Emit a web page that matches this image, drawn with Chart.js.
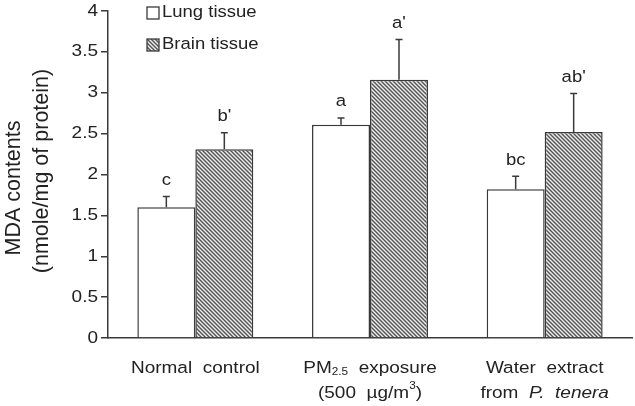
<!DOCTYPE html>
<html>
<head>
<meta charset="utf-8">
<script src="https://cdn.jsdelivr.net/npm/chart.js@4/dist/chart.umd.min.js"></script>
<style>
  html, body { margin: 0; padding: 0; background: #fff; }
  #wrap { width: 635px; height: 406px; }
</style>
</head>
<body>
<div id="wrap"><canvas id="chart" width="635" height="406"></canvas></div>
<script>
    'use strict';

    // data
    var categories = ['Normal control', 'PM2.5 exposure (500 µg/m3)', 'Water extract from P. tenera'];
    var lungValues = [1.60, 2.61, 1.82];
    var brainValues = [2.31, 3.16, 2.52];
    var lungErrors = [0.13, 0.08, 0.16];
    var brainErrors = [0.20, 0.49, 0.47];
    var lungLetters = ['c', 'a', 'bc'];
    var brainLetters = ["b'", "a'", "ab'"];
    var yTicks = [0, 0.5, 1, 1.5, 2, 2.5, 3, 3.5, 4];
    var seriesNames = ['Lung tissue', 'Brain tissue'];
    var yTitle = ['MDA contents', '(nmole/mg of protein)'];

    // category labels with sub/superscripts and italics
    var categoryLines = [
        [[{ t: 'Normal  control' }]],
        [[{ t: 'PM' }, { t: '2.5', sub: true }, { t: '  exposure' }],
         [{ t: '(500  µg/m' }, { t: '3', sup: true }, { t: ')' }]],
        [[{ t: 'Water  extract' }],
         [{ t: 'from  ' }, { t: 'P.', it: true }, { t: '  ' }, { t: 'tenera', it: true }]]
    ];

    var ink = '#222';
    var lineCol = '#3a3a3a';
    var FONT = '"Liberation Sans", Arial, sans-serif';
    var SQUISH = 0.86;

    var _hatch = function () {
        var c = document.createElement('canvas');
        c.width = 4; c.height = 4;
        var g = c.getContext('2d');
        var img = g.createImageData(4, 4);
        var shades = [85, 155, 238, 165];
        for (var y = 0; y < 4; y++) {
            for (var x = 0; x < 4; x++) {
                var v = shades[((x - y) % 4 + 4) % 4];
                var i = (y * 4 + x) * 4;
                img.data[i] = v; img.data[i + 1] = v; img.data[i + 2] = v; img.data[i + 3] = 255;
            }
        }
        g.putImageData(img, 0, 0);
        return document.getElementById('chart').getContext('2d').createPattern(c, 'repeat');
    };
    var hatch = _hatch();

    var _text = function (ctx, str, x, y, size, align, italic) {
        ctx.save();
        ctx.font = (italic ? 'italic ' : '') + size + 'px ' + FONT;
        ctx.textAlign = align || 'center';
        ctx.textBaseline = 'middle';
        ctx.fillStyle = ink;
        ctx.translate(x, y);
        ctx.scale(1, SQUISH);
        ctx.fillText(str, 0, 0);
        ctx.restore();
    };

    var _richLine = function (ctx, segs, cx, cy, size) {
        var widths = segs.map(function (s) {
            var sz = (s.sub || s.sup) ? size * 0.62 : size;
            ctx.font = (s.it ? 'italic ' : '') + sz + 'px ' + FONT;
            return ctx.measureText(s.t).width;
        });
        var total = widths.reduce(function (a, b) { return a + b; }, 0);
        var x = cx - total / 2;
        segs.forEach(function (s, i) {
            var sz = (s.sub || s.sup) ? size * 0.62 : size;
            var dy = s.sub ? 4 : (s.sup ? -7 : 0);
            _text(ctx, s.t, x, cy + dy, sz, 'left', s.it);
            x += widths[i];
        });
    };

    var decorations = {
        id: 'decorations',
        afterDraw: function (chart) {
            var ctx = chart.ctx;
            var yScale = chart.scales.y;
            var xScale = chart.scales.x;

            // y tick labels
            yScale.ticks.forEach(function (tk) {
                _text(ctx, String(tk.value), yScale.right - 10, yScale.getPixelForValue(tk.value), 19, 'right');
            });

            // y axis title, two rotated lines
            ctx.save();
            ctx.fillStyle = ink;
            ctx.textAlign = 'center';
            ctx.textBaseline = 'middle';
            ctx.font = '21.5px ' + FONT;
            [[14, 188], [42, 171]].forEach(function (p, i) {
                ctx.save();
                ctx.translate(p[0], p[1]);
                ctx.rotate(-Math.PI / 2);
                ctx.fillText(yTitle[i], 0, 0);
                ctx.restore();
            });
            ctx.restore();

            // category labels
            categoryLines.forEach(function (lines, i) {
                var cx = xScale.getPixelForValue(i);
                lines.forEach(function (segs, j) {
                    _richLine(ctx, segs, cx, 368 + j * 25, 19);
                });
            });

            // error bars and letters
            var errs = [lungErrors, brainErrors];
            var letters = [lungLetters, brainLetters];
            chart.data.datasets.forEach(function (ds, d) {
                var meta = chart.getDatasetMeta(d);
                meta.data.forEach(function (bar, i) {
                    var top = yScale.getPixelForValue(ds.data[i] + errs[d][i]);
                    ctx.save();
                    ctx.strokeStyle = lineCol;
                    ctx.lineWidth = 1.5;
                    ctx.beginPath();
                    ctx.moveTo(bar.x, bar.y);
                    ctx.lineTo(bar.x, top);
                    ctx.moveTo(bar.x - 3.5, top);
                    ctx.lineTo(bar.x + 3.5, top);
                    ctx.stroke();
                    ctx.restore();
                    _text(ctx, letters[d][i], bar.x, top - 16, 18.5, 'center');
                });
            });

            // legend inside the plot
            var fills = ['#fff', hatch];
            [[147, 7], [147, 39]].forEach(function (p, i) {
                ctx.save();
                ctx.fillStyle = fills[i];
                ctx.fillRect(p[0], p[1], 12, 12);
                ctx.strokeStyle = lineCol;
                ctx.lineWidth = 1.3;
                ctx.strokeRect(p[0], p[1], 12, 12);
                ctx.restore();
                _text(ctx, seriesNames[i], p[0] + 15, p[1] + 6, 18.5, 'left');
            });
        }
    };

    var chart = new Chart(document.getElementById('chart'), {
        type: 'bar',
        data: {
            labels: categories,
            datasets: [
                {
                    label: seriesNames[0],
                    data: lungValues,
                    backgroundColor: '#fff',
                    borderColor: lineCol,
                    borderWidth: 1.5
                },
                {
                    label: seriesNames[1],
                    data: brainValues,
                    backgroundColor: hatch,
                    borderColor: lineCol,
                    borderWidth: 1.5
                }
            ]
        },
        options: {
            responsive: false,
            animation: false,
            devicePixelRatio: 1,
            layout: { padding: { top: 11, right: 3, left: 0, bottom: 0 } },
            datasets: { bar: { categoryPercentage: 0.664, barPercentage: 1, borderSkipped: 'bottom' } },
            plugins: { legend: { display: false }, tooltip: { enabled: false } },
            scales: {
                x: {
                    grid: { display: false },
                    border: { display: true, color: lineCol, width: 1.5 },
                    ticks: { display: false },
                    afterFit: function (scale) { scale.height = 68; }
                },
                y: {
                    min: yTicks[0],
                    max: yTicks[yTicks.length - 1],
                    ticks: { display: false, stepSize: yTicks[1] - yTicks[0] },
                    grid: { display: true, drawOnChartArea: false, drawTicks: true, tickLength: 7, color: lineCol, lineWidth: 1.5 },
                    border: { display: true, color: lineCol, width: 1.5 },
                    afterFit: function (scale) { scale.width = 108; }
                }
            }
        },
        plugins: [decorations]
    });
</script>
</body>
</html>
